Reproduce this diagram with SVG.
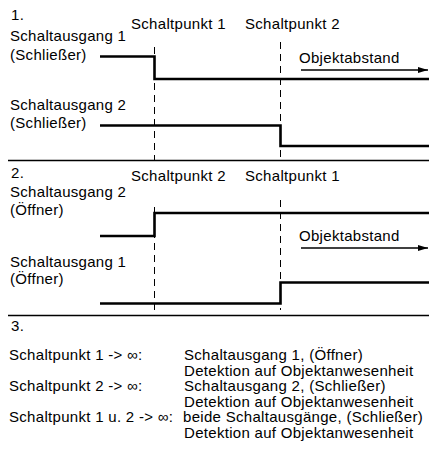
<svg xmlns="http://www.w3.org/2000/svg" width="429" height="455" viewBox="0 0 429 455">
<defs>
<style>
text{font-family:"Liberation Sans",Arial,sans-serif;font-size:15px;letter-spacing:0.3px;fill:#000}
.sig{fill:none;stroke:#000;stroke-width:2.6}
.dash{fill:none;stroke:#000;stroke-width:1;stroke-dasharray:7,5}
.sep{fill:none;stroke:#000;stroke-width:1.6}
.arr{fill:none;stroke:#000;stroke-width:1.3;marker-end:url(#ah)}
</style>
<marker id="ah" viewBox="0 0 10 6" refX="10" refY="3" markerWidth="10" markerHeight="6" markerUnits="userSpaceOnUse" orient="auto">
<path d="M0,0 L10,3 L0,6 z" fill="#000"/>
</marker>
</defs>
<rect width="429" height="455" fill="#fff"/>
<g id="connectors">
<line class="sep" x1="8" y1="160.5" x2="429" y2="160.5"/>
<line class="sep" x1="8" y1="315.5" x2="429" y2="315.5"/>
<line class="dash" x1="154.5" y1="47" x2="154.5" y2="160"/>
<line class="dash" x1="280.5" y1="42" x2="280.5" y2="160"/>
<line class="dash" x1="154.5" y1="207" x2="154.5" y2="310"/>
<line class="dash" x1="280.5" y1="200" x2="280.5" y2="310"/>
<line class="arr" x1="301" y1="70" x2="428" y2="70"/>
<line class="arr" x1="301" y1="248" x2="428" y2="248"/>
</g>
<g id="section1">
<text x="11" y="20">1.</text>
<text x="10" y="41">Schaltausgang 1</text>
<text x="10" y="60">(Schließer)</text>
<text x="10" y="110">Schaltausgang 2</text>
<text x="10" y="128">(Schließer)</text>
<text x="131" y="29">Schaltpunkt 1</text>
<text x="245" y="29">Schaltpunkt 2</text>
<text x="299" y="63">Objektabstand</text>
<polyline class="sig" points="100,56.5 154.5,56.5 154.5,79 429,79"/>
<polyline class="sig" points="100,125.5 280.5,125.5 280.5,146 429,146"/>
</g>
<g id="section2">
<text x="11" y="178">2.</text>
<text x="10" y="197">Schaltausgang 2</text>
<text x="10" y="215">(Öffner)</text>
<text x="10" y="266.5">Schaltausgang 1</text>
<text x="10" y="284">(Öffner)</text>
<text x="131" y="181">Schaltpunkt 2</text>
<text x="245" y="181">Schaltpunkt 1</text>
<text x="299" y="241">Objektabstand</text>
<polyline class="sig" points="100,236 154.5,236 154.5,213 429,213"/>
<polyline class="sig" points="100,303.5 280.5,303.5 280.5,282.5 429,282.5"/>
</g>
<g id="section3">
<text x="11" y="331">3.</text>
<text x="9" y="360">Schaltpunkt 1 -&gt; ∞:</text>
<text x="184" y="360">Schaltausgang 1, (Öffner)</text>
<text x="184" y="375.5">Detektion auf Objektanwesenheit</text>
<text x="9" y="391">Schaltpunkt 2 -&gt; ∞:</text>
<text x="184" y="391">Schaltausgang 2, (Schließer)</text>
<text x="184" y="406.5">Detektion auf Objektanwesenheit</text>
<text x="9" y="422">Schaltpunkt 1 u. 2 -&gt; ∞:</text>
<text x="183" y="422">beide Schaltausgänge, (Schließer)</text>
<text x="184" y="437.5">Detektion auf Objektanwesenheit</text>
</g>
</svg>
